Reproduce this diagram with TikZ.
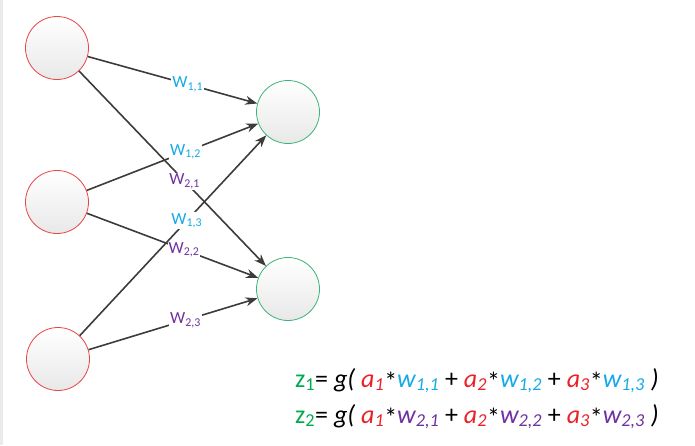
\documentclass[tikz,border=0pt]{standalone}
\usepackage{fontspec}
\setmainfont{Carlito}
\usetikzlibrary{arrows.meta}
\definecolor{cred}{RGB}{232,34,40}
\definecolor{cblue}{RGB}{20,170,230}
\definecolor{cpurple}{RGB}{112,48,160}
\definecolor{cgreen}{RGB}{0,170,80}
\definecolor{bred}{RGB}{232,70,70}
\definecolor{bgreen}{RGB}{60,180,120}
\definecolor{edgec}{RGB}{60,60,60}
\newcommand\mulstar{\raisebox{-0.3ex}{*}}
\tikzset{
  inneuron/.style={circle, draw=bred, line width=0.8pt, minimum size=63pt, inner sep=0pt, top color=white, bottom color=black!9},
  outneuron/.style={circle, draw=bgreen, line width=0.8pt, minimum size=63pt, inner sep=0pt, top color=white, bottom color=black!9},
  conn/.style={draw=edgec, line width=1.6pt, -{Stealth[length=12pt,width=9pt]}},
  wlab/.style={fill=white, inner sep=1pt, font=\fontsize{17}{20}\selectfont},
  formula/.style={anchor=base west, inner sep=0pt, font=\fontsize{26}{30}\selectfont}
}
\begin{document}
\begin{tikzpicture}[x=1pt,y=-1pt]
\useasboundingbox (0,0) rectangle (695,445);
\fill[black!8] (0,0) rectangle (2.5,445);
\node[inneuron] (a1) at (57,48) {};
\node[inneuron] (a2) at (57,202) {};
\node[inneuron] (a3) at (58,359) {};
\node[outneuron] (z1) at (288,112) {};
\node[outneuron] (z2) at (288,289) {};
\draw[conn] (a1) -- (z1) node[wlab, pos=0.59, text=cblue] (l11) {W\textsubscript{1,1}};
\draw[conn] (a1) -- (z2) node[wlab, pos=0.565, text=cpurple] (l21) {W\textsubscript{2,1}};
\draw[conn] (a2) -- (z1) node[wlab, pos=0.576, text=cblue] (l12) {W\textsubscript{1,2}};
\draw[conn] (a2) -- (z2) node[wlab, pos=0.567, text=cpurple] (l22) {W\textsubscript{2,2}};
\draw[conn] (a3) -- (z1) node[wlab, pos=0.574, text=cblue] (l13) {W\textsubscript{1,3}};
\draw[conn] (a3) -- (z2) node[wlab, pos=0.574, text=cpurple] (l23) {W\textsubscript{2,3}};
\node[formula] (f1) at (295,387) {\textcolor{cgreen}{z\textsubscript{1}}= \textit{g( \textcolor{cred}{a\textsubscript{1}}}\mulstar\textit{\textcolor{cblue}{w\textsubscript{1,1}}} + \textit{\textcolor{cred}{a\textsubscript{2}}}\mulstar\textit{\textcolor{cblue}{w\textsubscript{1,2}}} + \textit{\textcolor{cred}{a\textsubscript{3}}}\mulstar\textit{\textcolor{cblue}{w\textsubscript{1,3}} )}};
\node[formula] (f2) at (295,423) {\textcolor{cgreen}{z\textsubscript{2}}= \textit{g( \textcolor{cred}{a\textsubscript{1}}}\mulstar\textit{\textcolor{cpurple}{w\textsubscript{2,1}}} + \textit{\textcolor{cred}{a\textsubscript{2}}}\mulstar\textit{\textcolor{cpurple}{w\textsubscript{2,2}}} + \textit{\textcolor{cred}{a\textsubscript{3}}}\mulstar\textit{\textcolor{cpurple}{w\textsubscript{2,3}} )}};
\end{tikzpicture}
\end{document}
